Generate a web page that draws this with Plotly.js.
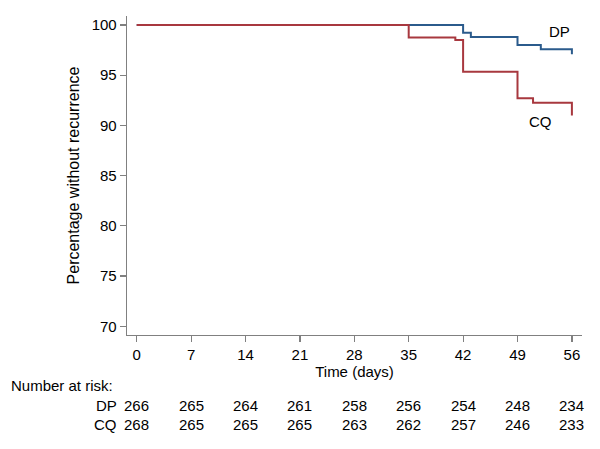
<!DOCTYPE html>
<html>
<head>
<meta charset="utf-8">
<script src="https://cdn.plot.ly/plotly-3.0.1.min.js"></script>
<style>html,body{margin:0;padding:0;background:#fff;}#chart{width:600px;height:449px;}</style>
</head>
<body>
<div id="chart"></div>
<script>
// Kaplan-Meier step data
var dpTimes = [0, 42, 43, 49, 52, 56];
var dpValues = [100, 99.23, 98.8, 98.0, 97.6, 97.1];
var cqTimes = [0, 35, 41, 42, 49, 51, 56];
var cqValues = [100, 98.77, 98.5, 95.35, 92.7, 92.25, 91.0];

// Number at risk table
var riskTimes = [0, 7, 14, 21, 28, 35, 42, 49, 56];
var dpRisk = [266, 265, 264, 261, 258, 256, 254, 248, 234];
var cqRisk = [268, 265, 265, 265, 263, 262, 257, 246, 233];

var xTicks = [0, 7, 14, 21, 28, 35, 42, 49, 56];
var yTicks = [70, 75, 80, 85, 90, 95, 100];

var FONT = 'Liberation Sans, Arial, sans-serif';
var FS = 15;
var plotTop = 16, plotBottom = 334.7, plotLeft = 127, plotRight = 582;
function paperY(p) { return (plotBottom - p) / (plotBottom - plotTop); }
function paperX(p) { return (p - plotLeft) / (plotRight - plotLeft); }
var txt = {family: FONT, size: FS, color: '#000'};

var traces = [
  {x: dpTimes, y: dpValues, mode: 'lines', line: {shape: 'hv', color: '#2b5b8c', width: 2}, name: 'DP', hoverinfo: 'x+y'},
  {x: cqTimes, y: cqValues, mode: 'lines', line: {shape: 'hv', color: '#a8383f', width: 2}, name: 'CQ', hoverinfo: 'x+y'}
];

var annotations = [
  {text: 'DP', x: 54.4, y: 99.4, xref: 'x', yref: 'y', showarrow: false, font: txt},
  {text: 'CQ', x: 51.9, y: 90.4, xref: 'x', yref: 'y', showarrow: false, font: txt},
  {text: 'Number at risk:', x: paperX(9), xref: 'paper', y: paperY(385), yref: 'paper', showarrow: false, xanchor: 'left', yanchor: 'middle', font: txt},
  {text: 'DP', x: paperX(119), xref: 'paper', y: paperY(405), yref: 'paper', showarrow: false, xanchor: 'right', yanchor: 'middle', font: txt},
  {text: 'CQ', x: paperX(119), xref: 'paper', y: paperY(424), yref: 'paper', showarrow: false, xanchor: 'right', yanchor: 'middle', font: txt}
];

for (var i = 0; i < riskTimes.length; i++) {
  annotations.push({text: String(dpRisk[i]), x: riskTimes[i], xref: 'x', y: paperY(405), yref: 'paper', showarrow: false, xanchor: 'center', yanchor: 'middle', font: txt});
  annotations.push({text: String(cqRisk[i]), x: riskTimes[i], xref: 'x', y: paperY(424), yref: 'paper', showarrow: false, xanchor: 'center', yanchor: 'middle', font: txt});
}

var layout = {
  width: 600, height: 449,
  margin: {l: plotLeft, r: 600 - plotRight, t: plotTop, b: 449 - plotBottom},
  paper_bgcolor: '#fff', plot_bgcolor: '#fff',
  showlegend: false,
  font: txt,
  xaxis: {
    range: [-1.25, 57.3], tickvals: xTicks, ticktext: xTicks.map(String),
    showgrid: false, zeroline: false, showline: true, linecolor: '#808080', linewidth: 1.3,
    ticks: 'outside', ticklen: 6, tickcolor: '#808080', tickwidth: 1.2,
    tickfont: txt,
    title: {text: 'Time (days)', font: txt, standoff: 0}
  },
  yaxis: {
    range: [69.13, 100.9], tickvals: yTicks, ticktext: yTicks.map(String),
    showgrid: false, zeroline: false, showline: true, linecolor: '#808080', linewidth: 1.3,
    ticks: 'outside', ticklen: 6, tickcolor: '#808080', tickwidth: 1.2,
    tickfont: txt,
    title: {text: 'Percentage without recurrence', font: {family: FONT, size: 16, color: '#000'}, standoff: 8}
  },
  annotations: annotations
};

Plotly.newPlot('chart', traces, layout, {displayModeBar: false, staticPlot: true});
</script>
</body>
</html>
